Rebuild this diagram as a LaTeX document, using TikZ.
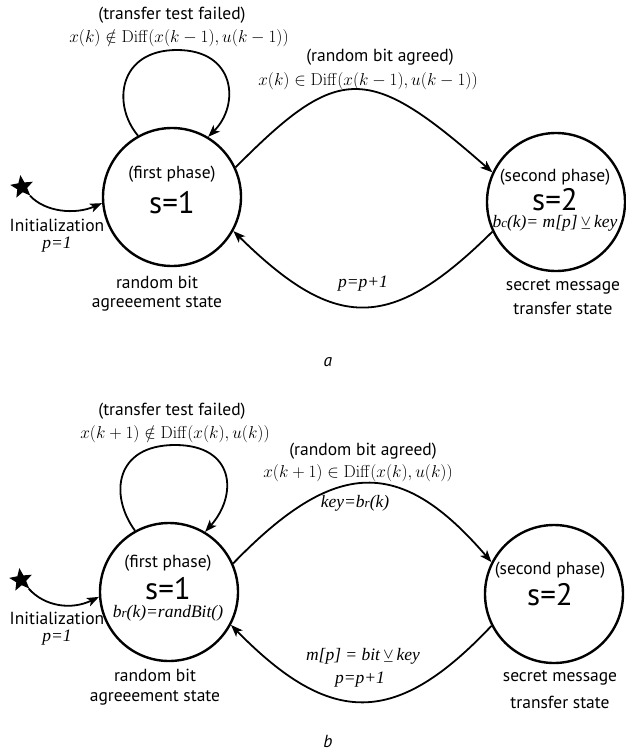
\documentclass[tikz,border=0pt]{standalone}
\usepackage{amssymb}
\usepackage[no-math]{fontspec}
\setmainfont{PT Sans}
\newfontfamily\tim{Liberation Serif}
\usetikzlibrary{arrows.meta,shapes.geometric}
\newcommand{\labf}{\fontsize{17.5}{20}\selectfont}
\newcommand{\bigf}{\fontsize{31}{34}\selectfont}
\newcommand{\mthf}{\fontsize{16.8}{19}\selectfont}
\newcommand{\itlf}{\fontsize{17.5}{20}\selectfont\tim\itshape}
\newcommand{\smcf}[1]{{\fontsize{13}{13}\selectfont #1}}
\newcommand{\xorv}{\,\raisebox{-2pt}{$\veebar$}\,}
\begin{document}
\begin{tikzpicture}[x=1pt,y=1pt,
  state/.style={circle,draw,line width=2.4pt,minimum size=138pt,inner sep=0pt},
  arr/.style={line width=1.8pt,-{Stealth[length=12pt,width=9pt,inset=3pt]}},
  txt/.style={inner sep=0pt,align=center},
  startstar/.style={star,star points=5,star point ratio=2.3,fill=black,minimum size=24pt,inner sep=0pt,rotate=8}]
\useasboundingbox (0,0) rectangle (626,-753);
% ---------- panel a ----------
\node[state] (c1a) at (172,-197) {};
\node[state] (c2a) at (556,-202) {};
\node[startstar] (stara) at (22,-187) {};
\node[txt] (t1a) at (172,-174) {\labf (first phase)};
\node[txt] (s1a) at (172,-203) {\bigf s=1};
\node[txt] (t2a) at (555,-177) {\labf (second phase)};
\node[txt] (s2a) at (555,-200) {\bigf s=2};
\node[txt] (bca) at (555,-224) {\itlf b\smcf{c}(k)= m[p]\xorv key};
\node[txt] (ina) at (57,-225) {\labf Initialization};
\node[txt] (p1a) at (57,-245) {\itlf p=1};
\node[txt] (rba) at (157,-282) {\labf random bit};
\node[txt] (aga) at (157,-304) {\labf agreeement state};
\node[txt] (sma) at (563,-287) {\labf secret message};
\node[txt] (tsa) at (563,-308) {\labf transfer state};
\node[txt] (tfa) at (172,-15) {\labf (transfer test failed)};
\node[txt] (fna) at (179,-38) {\mthf $x(k)\notin \mathrm{Diff}(x(k-1),u(k-1))$};
\node[txt] (raa) at (380,-57) {\labf (random bit agreed)};
\node[txt] (fia) at (368,-81) {\mthf $x(k)\in \mathrm{Diff}(x(k-1),u(k-1))$};
\node[txt] (ppa) at (363,-284) {\itlf p=p+1};
\node[txt] (capa) at (328,-362) {\labf\itshape a};
\draw[arr] (c1a.119) .. controls (112,-105) and (118,-50) .. (177,-50)
  .. controls (236,-50) and (240,-105) .. (c1a.59);
\draw[arr] (c1a.25) .. controls (339,-63) and (368,-63) .. (c2a.155);
\draw[arr] (c2a.205) .. controls (391,-332) and (336,-332) .. (c1a.331);
\draw[arr] (stara) .. controls (45,-212) and (75,-215) .. (c1a.185);
% ---------- panel b ----------
\node[state] (c1b) at (169,-592) {};
\node[state] (c2b) at (554,-594) {};
\node[startstar] (starb) at (21,-580) {};
\node[txt] (t1b) at (168,-563) {\labf (first phase)};
\node[txt] (s1b) at (168,-589) {\bigf s=1};
\node[txt] (brb) at (168,-613) {\itlf b\smcf{r}(k)=randBit()};
\node[txt] (t2b) at (550,-570) {\labf (second phase)};
\node[txt] (s2b) at (550,-595) {\bigf s=2};
\node[txt] (inb) at (57,-618) {\labf Initialization};
\node[txt] (p1b) at (57,-638) {\itlf p=1};
\node[txt] (rbb) at (155,-675) {\labf random bit};
\node[txt] (agb) at (155,-698) {\labf agreeement state};
\node[txt] (smb) at (560,-678) {\labf secret message};
\node[txt] (tsb) at (560,-702) {\labf transfer state};
\node[txt] (tfb) at (172,-411) {\labf (transfer test failed)};
\node[txt] (fnb) at (175,-434) {\mthf $x(k+1)\notin \mathrm{Diff}(x(k),u(k))$};
\node[txt] (rab) at (363,-451) {\labf (random bit agreed)};
\node[txt] (fib) at (358,-473) {\mthf $x(k+1)\in \mathrm{Diff}(x(k),u(k))$};
\node[txt] (keyb) at (355,-503) {\itlf key=b\smcf{r}(k)};
\node[txt] (mpb) at (363,-657) {\itlf m[p] = bit\xorv key};
\node[txt] (ppb) at (360,-680) {\itlf p=p+1};
\node[txt] (capb) at (328,-741) {\labf\itshape b};
\draw[arr] (c1b.119) .. controls (109,-495) and (115,-445) .. (175,-445)
  .. controls (235,-445) and (238,-495) .. (c1b.59);
\draw[arr] (c1b.24) .. controls (336,-457) and (401,-457) .. (c2b.153);
\draw[arr] (c2b.207) .. controls (396,-727) and (331,-727) .. (c1b.332);
\draw[arr] (starb) .. controls (45,-607) and (72,-610) .. (c1b.184);
\end{tikzpicture}
\end{document}
